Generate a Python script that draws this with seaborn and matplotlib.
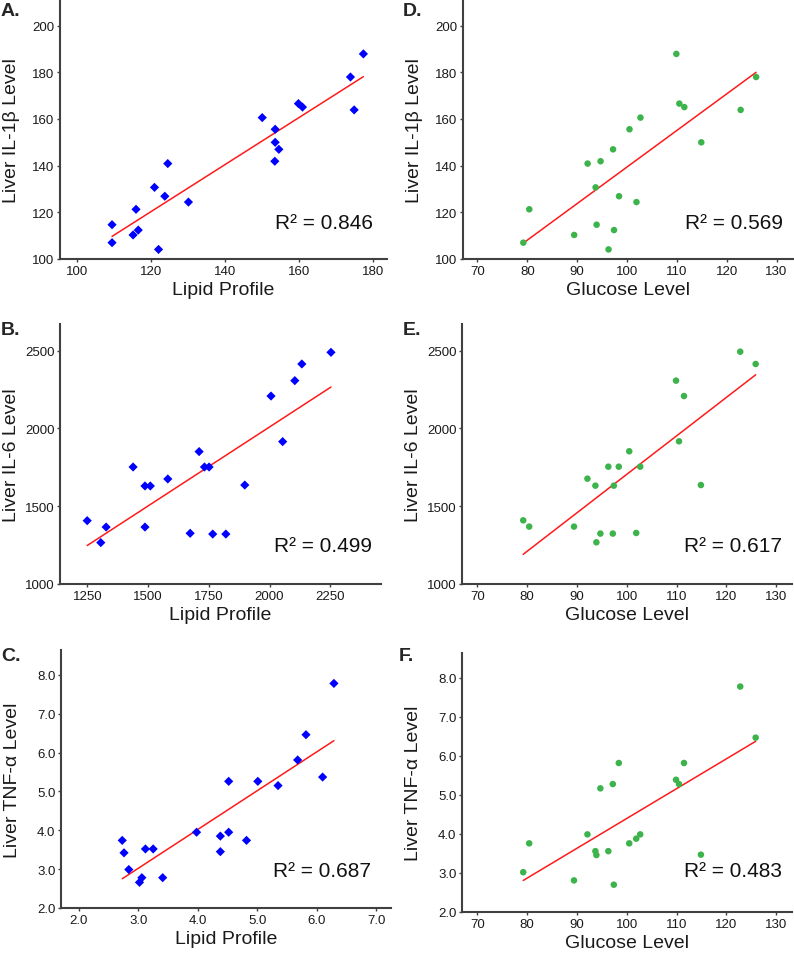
import numpy as np
import pandas as pd
import seaborn as sns
import matplotlib.pyplot as plt

# values (20 subjects)
il1b = [187.9, 178.0, 163.9, 166.6, 165.1, 160.6, 155.6, 150.0, 147.0, 141.9,
        140.9, 130.7, 126.9, 124.4, 121.3, 114.7, 112.4, 110.3, 107.0, 104.1]
lipid_a = [177.5, 174.0, 175.0, 159.9, 161.0, 150.1, 153.6, 153.6, 154.6, 153.5,
           124.5, 120.9, 123.7, 130.1, 115.9, 109.4, 116.5, 115.1, 109.4, 122.0]
glucose = [109.9, 125.9, 122.8, 110.5, 111.5, 102.7, 100.5, 114.9, 97.2, 94.7,
           92.1, 93.7, 98.4, 101.9, 80.4, 93.9, 97.4, 89.4, 79.2, 96.3]
il6 = [2307, 2414, 2493, 1917, 2208, 1754, 1853, 1636, 1324, 1324,
       1677, 1632, 1754, 1328, 1369, 1268, 1632, 1369, 1409, 1754]
tnf = [5.39, 6.47, 7.78, 5.28, 5.82, 3.99, 3.76, 3.47, 5.28, 5.17,
       3.99, 3.56, 5.82, 3.88, 3.76, 3.46, 2.70, 2.81, 3.02, 3.56]

lipid_b = [2253, 2133, 2104, 2006, 2054, 1710, 1438, 1732, 1751, 1581,
           1487, 1509, 1898, 1249, 1327, 1487, 1673, 1766, 1820, 1305]
il6_b = [2489, 2414, 2307, 2208, 1915, 1851, 1752, 1752, 1752, 1675,
         1630, 1630, 1636, 1407, 1366, 1366, 1326, 1321, 1321, 1266]

lipid_c = [6.29, 5.82, 5.68, 6.10, 4.52, 5.01, 5.35, 3.98, 4.52, 4.38,
           4.82, 2.73, 3.12, 3.25, 2.76, 4.38, 2.84, 3.06, 3.41, 3.02]
tnf_c = [7.78, 6.46, 5.81, 5.37, 5.26, 5.26, 5.15, 3.95, 3.95, 3.85,
         3.74, 3.74, 3.52, 3.52, 3.42, 3.45, 2.99, 2.78, 2.78, 2.66]

r2_labels = {'A': '0.846', 'B': '0.499', 'C': '0.687',
             'D': '0.569', 'E': '0.617', 'F': '0.483'}

W, H = 794, 954
sns.set_style('ticks')
plt.rcParams['font.family'] = ['Liberation Sans', 'DejaVu Sans']

fig = plt.figure(figsize=(W / 100, H / 100), dpi=100)


def px_axes(left, top, right, bottom):
    return fig.add_axes([left / W, 1 - bottom / H, (right - left) / W, (bottom - top) / H])


def panel(letter, box, x, y, xlabel, ylabel, xlim, ylim, xticks, yticks, xfmt, yfmt,
          marker, color, size, r2_pos, letter_pos):
    ax = px_axes(*box)
    df = pd.DataFrame({'x': x, 'y': y})
    sns.regplot(data=df, x='x', y='y', ax=ax, scatter=False, ci=None,
                color='#ff1a1a', line_kws={'lw': 1.1})
    sns.scatterplot(data=df, x='x', y='y', ax=ax, marker=marker, color=color,
                    s=size, edgecolor='none', zorder=3)
    ax.set_xlim(*xlim)
    ax.set_ylim(*ylim)
    ax.set_xticks(xticks)
    ax.set_yticks(yticks)
    ax.set_xticklabels([xfmt.format(v) for v in xticks])
    ax.set_yticklabels([yfmt.format(v) for v in yticks])
    sns.despine(ax=ax)
    for s in ['left', 'bottom']:
        ax.spines[s].set_color('#404040')
        ax.spines[s].set_linewidth(1.5)
    ax.tick_params(length=2.5, width=1, color='#404040', labelsize=9.5,
                   labelcolor='#1a1a1a', pad=1.5)
    ax.set_xlabel(xlabel, fontsize=14, color='#1a1a1a')
    ax.set_ylabel(ylabel, fontsize=14, color='#1a1a1a')
    ax.xaxis.set_label_coords(0.5, -0.085)
    ax.yaxis.set_label_coords(-40 / (box[2] - box[0]), 0.5)
    fig.text(r2_pos[0] / W, 1 - r2_pos[1] / H, 'R\u00b2 = ' + r2_labels[letter],
             ha='right', va='baseline', fontsize=15, color='#111111')
    fig.text(letter_pos[0] / W, 1 - letter_pos[1] / H, letter + '.',
             ha='left', va='top', fontsize=14, fontweight='bold')
    return ax


lip = 'Lipid Profile'
glu = 'Glucose Level'
one_dec = '{:.1f}'
intf = '{:g}'
glu_ticks = [70, 80, 90, 100, 110, 120, 130]
il1b_ticks = [100, 120, 140, 160, 180, 200]
il6_ticks = [1000, 1500, 2000, 2500]
tnf_ticks = [2.0, 3.0, 4.0, 5.0, 6.0, 7.0, 8.0]

panel('A', (60, 1, 387, 260), lipid_a, il1b, lip, 'Liver IL-1\u03b2 Level',
      (95.3, 183.9), (100, 211), [100, 120, 140, 160, 180], il1b_ticks,
      intf, intf, 'D', 'blue', 22, (373, 229), (1, 3))
panel('D', (463, 1, 793, 260), glucose, il1b, glu, 'Liver IL-1\u03b2 Level',
      (67.1, 133.3), (100, 211), glu_ticks, il1b_ticks,
      intf, intf, 'o', '#3cb44b', 22, (783, 229), (403, 3))
panel('B', (60, 325, 381, 585), lipid_b, il6_b, lip, 'Liver IL-6 Level',
      (1137, 2459), (1000, 2671), [1250, 1500, 1750, 2000, 2250], il6_ticks,
      intf, intf, 'D', 'blue', 22, (372, 552), (1, 322))
panel('E', (462, 325, 792, 585), glucose, il6, glu, 'Liver IL-6 Level',
      (66.9, 133.2), (1000, 2671), glu_ticks, il6_ticks,
      intf, intf, 'o', '#3cb44b', 22, (782, 552), (403, 322))
panel('C', (61, 651, 391, 909), lipid_c, tnf_c, lip, 'Liver TNF-\u03b1 Level',
      (1.70, 7.25), (2.0, 8.64), [2.0, 3.0, 4.0, 5.0, 6.0, 7.0], tnf_ticks,
      one_dec, one_dec, 'D', 'blue', 22, (371, 877), (1, 648))
panel('F', (462, 654, 792, 913), glucose, tnf, glu, 'Liver TNF-\u03b1 Level',
      (66.9, 133.2), (2.0, 8.64), glu_ticks, tnf_ticks,
      intf, one_dec, 'o', '#3cb44b', 22, (782, 877), (399, 648))

fig.savefig('out.png', dpi=100)
